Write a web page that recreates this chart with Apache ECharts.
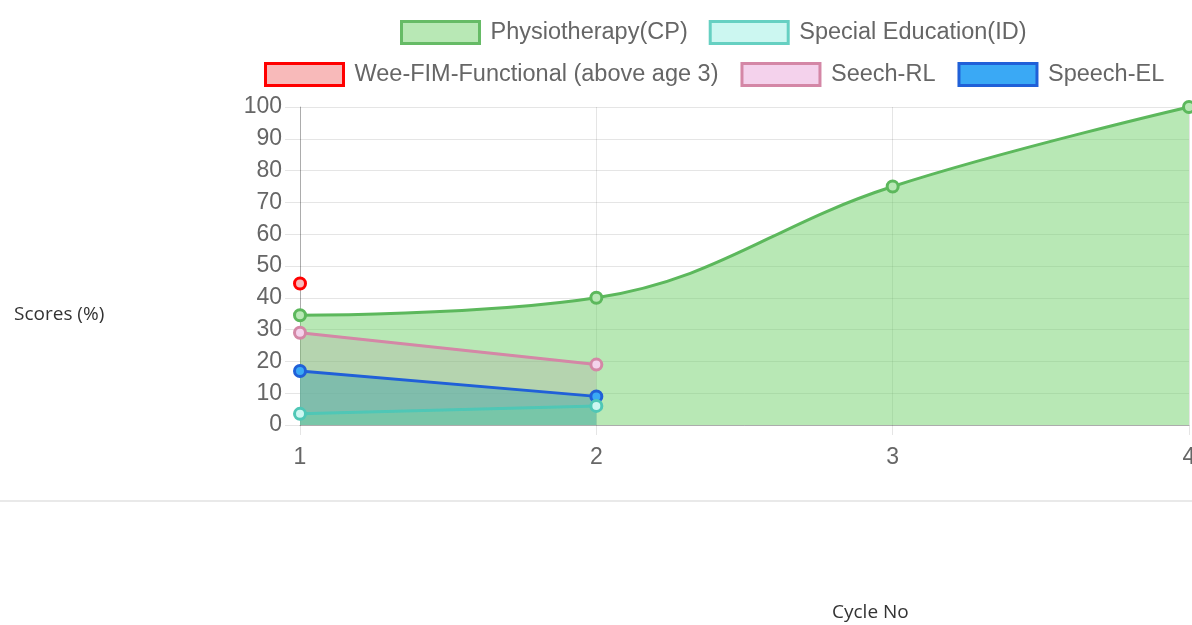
<!DOCTYPE html>
<html>
<head>
<meta charset="utf-8">
<title>Scores by cycle</title>
<script src="https://cdn.jsdelivr.net/npm/echarts@6/dist/echarts.min.js"></script>
<style>
  html, body { margin: 0; padding: 0; background: #fff; }
  #chartContainer { width: 1192px; height: 625px; }
</style>
</head>
<body>
<div id="chartContainer"></div>
<script>
// 数据
const cycles = ['1', '2', '3', '4'];
const physiotherapy = [34.5, 40, 75, 100];
const specialEducation = [3.5, 6, null, null];
const weeFim = [44.5, null, null, null];
const seechRL = [29, 19, null, null];
const speechEL = [17, 9, null, null];

const seriesNames = ['Physiotherapy(CP)', 'Special Education(ID)', 'Wee-FIM-Functional (above age 3)', 'Seech-RL', 'Speech-EL'];

let analysisChart = null;

// 填充层（先画，所有线条在上面）
function fillSeries(name, data, fill, smooth) {
  return {
    name: name,
    type: 'line',
    data: data,
    z: 1,
    smooth: smooth ? 0.4 : false,
    showSymbol: false,
    symbol: 'none',
    lineStyle: { width: 0, opacity: 0 },
    areaStyle: { color: fill, opacity: 1, origin: 'start' },
    silent: true,
    emphasis: { disabled: true }
  };
}

function lineSeries(name, data, line, point, smooth) {
  return {
    name: name,
    type: 'line',
    data: data,
    z: 3,
    smooth: smooth ? 0.4 : false,
    symbol: 'circle',
    symbolSize: 11,
    showSymbol: true,
    lineStyle: { color: line, width: 3 },
    itemStyle: { color: point, borderColor: line, borderWidth: 3 },
    emphasis: { disabled: true }
  };
}

function initChart() {
  const chartContainer = document.getElementById('chartContainer');
  analysisChart = echarts.init(chartContainer);

  const legendText = { color: '#666', fontSize: 23.5, fontFamily: 'Liberation Sans, Arial, sans-serif', padding: [0, 0, 0, 6] };
  const axisFont = { color: '#666', fontSize: 23, fontFamily: 'Liberation Sans, Arial, sans-serif' };

  analysisChart.setOption({
    animation: false,
    legend: [
      {
        left: 400, top: 20, padding: 0, itemWidth: 78, itemHeight: 22, itemGap: 21, icon: 'rect',
        textStyle: legendText, selectedMode: false,
        data: [
          { name: seriesNames[0], itemStyle: { color: '#b8e8b5', borderColor: '#66bb66', borderWidth: 3 } },
          { name: seriesNames[1], itemStyle: { color: '#ccf7f1', borderColor: '#66d0c2', borderWidth: 3 } }
        ]
      },
      {
        left: 264, top: 62, padding: 0, itemWidth: 78, itemHeight: 22, itemGap: 22, icon: 'rect',
        textStyle: legendText, selectedMode: false,
        data: [
          { name: seriesNames[2], itemStyle: { color: '#f8baba', borderColor: '#ff0000', borderWidth: 3 } },
          { name: seriesNames[3], itemStyle: { color: '#f4d2ec', borderColor: '#d487a6', borderWidth: 3 } },
          { name: seriesNames[4], itemStyle: { color: '#3aa9f5', borderColor: '#2060d8', borderWidth: 3 } }
        ]
      }
    ],
    grid: { left: 300, right: 3, top: 107, bottom: 200, outerBoundsMode: 'none' },
    xAxis: {
      type: 'category',
      data: cycles,
      boundaryGap: false,
      axisLine: { lineStyle: { color: 'rgba(0,0,0,0.25)', width: 1 } },
      axisTick: { show: true, length: 10, lineStyle: { color: 'rgba(0,0,0,0.1)' } },
      axisLabel: Object.assign({ margin: 21 }, axisFont),
      splitLine: { show: true, lineStyle: { color: 'rgba(0,0,0,0.1)' } }
    },
    yAxis: {
      type: 'value',
      min: 0, max: 100, interval: 10,
      axisLine: { show: true, lineStyle: { color: 'rgba(0,0,0,0.25)', width: 1 } },
      axisTick: { show: true, length: 15, lineStyle: { color: 'rgba(0,0,0,0.1)' } },
      axisLabel: Object.assign({ margin: 18 }, axisFont),
      splitLine: { show: true, lineStyle: { color: 'rgba(0,0,0,0.1)' } }
    },
    series: [
      fillSeries(seriesNames[4], speechEL, 'rgba(58,169,245,0.67)', false),
      fillSeries(seriesNames[3], seechRL, 'rgba(220,50,190,0.2)', false),
      fillSeries(seriesNames[2], weeFim, 'rgba(255,80,80,0.3)', false),
      fillSeries(seriesNames[1], specialEducation, 'rgba(85,228,208,0.3)', false),
      fillSeries(seriesNames[0], physiotherapy, 'rgba(113,209,107,0.5)', true),
      lineSeries(seriesNames[4], speechEL, '#2060d8', '#3aa9f5', false),
      lineSeries(seriesNames[3], seechRL, '#d487a6', '#f4d2ec', false),
      lineSeries(seriesNames[2], weeFim, '#ff0000', '#f8baba', false),
      lineSeries(seriesNames[1], specialEducation, '#4fc7b6', '#ccf7f1', false),
      lineSeries(seriesNames[0], physiotherapy, '#5cb85c', '#b8e8b5', true)
    ],
    graphic: [
      { type: 'text', left: 14, top: 305, style: { text: 'Scores (%)', fill: '#333', font: '19px "Open Sans", sans-serif' } },
      { type: 'text', left: 832, top: 603, style: { text: 'Cycle No', fill: '#333', font: '19px "Open Sans", sans-serif' } },
      { type: 'line', shape: { x1: 0, y1: 501, x2: 1192, y2: 501 }, style: { stroke: '#e2e2e2', lineWidth: 1.5 } }
    ]
  });
}

initChart();
</script>
</body>
</html>
